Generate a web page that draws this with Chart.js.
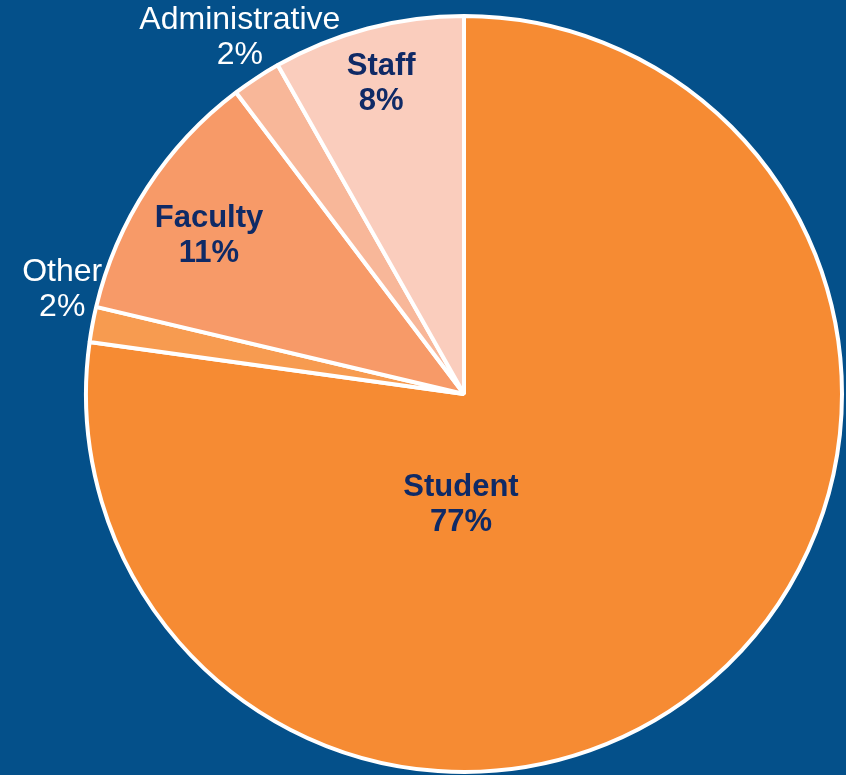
<!DOCTYPE html>
<html>
<head>
<meta charset="utf-8">
<script src="https://cdn.jsdelivr.net/npm/chart.js@4"></script>
<style>
  html, body { margin: 0; padding: 0; background: #04508a; }
  #wrap { width: 846px; height: 775px; }
</style>
</head>
<body>
<div id="wrap"><canvas id="chart"></canvas></div>
<script>
const categories = ['Student', 'Other', 'Faculty', 'Administrative', 'Staff'];
const shares = [77.2, 1.5, 11.0, 2.1, 8.2];
const sliceColors = ['#f68b33', '#f79b50', '#f79a68', '#f8b799', '#facdbd'];

// where each label sits: shift from the slice's mid angle (deg), and fraction of radius
const labelSpots = [
  { shift: 42.6, r: 0.294, inside: true },
  { shift: 3.9, r: 1.098, inside: false },
  { shift: -1.3, r: 0.794, inside: true },
  { shift: 1.1, r: 1.113, inside: false },
  { shift: -0.2, r: 0.849, inside: true },
];

const sliceLabels = {
  id: 'sliceLabels',
  afterDatasetsDraw: (chart) => {
    const { ctx } = chart;
    const meta = chart.getDatasetMeta(0);
    ctx.save();
    ctx.textAlign = 'center';
    ctx.textBaseline = 'middle';
    meta.data.forEach((arc, i) => {
      const { x, y, startAngle, endAngle, outerRadius } = arc.getProps(['x', 'y', 'startAngle', 'endAngle', 'outerRadius'], true);
      const spot = labelSpots[i];
      const a = (startAngle + endAngle) / 2 + spot.shift * Math.PI / 180;
      const lx = x + Math.cos(a) * outerRadius * spot.r;
      const ly = y + Math.sin(a) * outerRadius * spot.r;
      if (spot.inside) {
        ctx.fillStyle = '#0f2a66';
        ctx.font = 'bold 31px "Liberation Sans", Arial, sans-serif';
      } else {
        ctx.fillStyle = '#ffffff';
        ctx.font = '32px "Liberation Sans", Arial, sans-serif';
      }
      ctx.fillText(categories[i], lx, ly - 17.5);
      ctx.fillText(Math.round(shares[i]) + '%', lx, ly + 17.5);
    });
    ctx.restore();
  }
};

new Chart(document.getElementById('chart'), {
  type: 'pie',
  data: {
    labels: categories,
    datasets: [{
      data: shares,
      backgroundColor: sliceColors,
      borderColor: '#ffffff',
      borderWidth: 4,
    }]
  },
  options: {
    responsive: true,
    maintainAspectRatio: false,
    animation: false,
    layout: {
      padding: { left: 84, right: 2, top: 14, bottom: 1 }
    },
    plugins: {
      legend: { display: false },
      tooltip: { enabled: false },
    },
  },
  plugins: [sliceLabels],
});
</script>
</body>
</html>
